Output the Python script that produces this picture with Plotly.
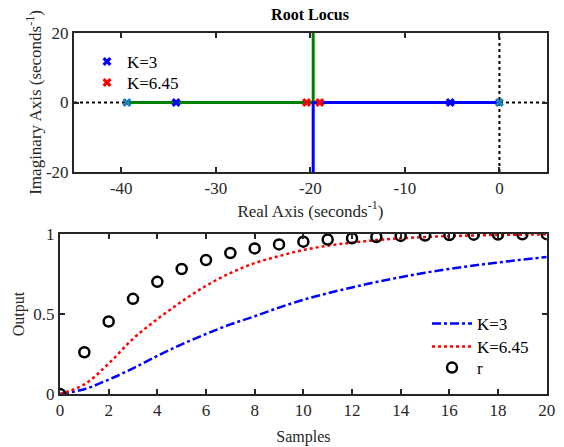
import plotly.graph_objects as go

# ---------------- data ----------------
# Root locus (top)
open_loop_poles_re = [0.0, -39.4]
open_loop_poles_im = [0.0, 0.0]
k3_poles_re = [-34.2, -5.2]
k3_poles_im = [0.0, 0.0]
k645_poles_re = [-20.4, -19.0]
k645_poles_im = [0.0, 0.0]
branch_green_re = [-39.4, -19.7, -19.7]
branch_green_im = [0.0, 0.0, 20.0]
branch_blue_re = [0.0, -19.7, -19.7]
branch_blue_im = [0.0, 0.0, -20.0]

# Step responses (bottom)
samples = list(range(21))
y_k3 = [0.0, 0.03, 0.09, 0.16, 0.238, 0.31, 0.375, 0.435, 0.486, 0.54, 0.589,
        0.63, 0.666, 0.70, 0.73, 0.758, 0.782, 0.803, 0.822, 0.84, 0.856]
y_k645 = [0.0, 0.06, 0.19, 0.345, 0.468, 0.578, 0.676, 0.756, 0.818, 0.862, 0.90,
          0.927, 0.946, 0.962, 0.973, 0.981, 0.987, 0.991, 0.994, 0.996, 0.998]
r_vals = [0.0, 0.261, 0.453, 0.595, 0.701, 0.781, 0.837, 0.881, 0.910, 0.935, 0.952,
          0.965, 0.973, 0.981, 0.988, 0.990, 0.994, 0.996, 0.997, 0.998, 0.999]

x_ticks_top = [-40, -30, -20, -10, 0]
y_ticks_top = [-20, 0, 20]
x_ticks_bot = list(range(0, 21, 2))
y_ticks_bot = [0, 0.5, 1]

# ---------------- figure ----------------
FONT = "Liberation Serif, Times New Roman, serif"
AX = "#262626"
W, H = 564, 447

fig = go.Figure()

# dotted axes lines in root locus
fig.add_trace(go.Scatter(x=[-45, 5], y=[0, 0], mode="lines",
                         line=dict(color="black", width=2, dash="dot"),
                         showlegend=False, hoverinfo="skip", xaxis="x", yaxis="y"))
fig.add_trace(go.Scatter(x=[0, 0], y=[-20, 20], mode="lines",
                         line=dict(color="black", width=2, dash="dot"),
                         showlegend=False, hoverinfo="skip", xaxis="x", yaxis="y"))
# branches
fig.add_trace(go.Scatter(x=branch_green_re, y=branch_green_im, mode="lines",
                         line=dict(color="#008000", width=3),
                         showlegend=False, xaxis="x", yaxis="y"))
fig.add_trace(go.Scatter(x=branch_blue_re, y=branch_blue_im, mode="lines",
                         line=dict(color="#0000FF", width=3),
                         showlegend=False, xaxis="x", yaxis="y"))
# open-loop poles
fig.add_trace(go.Scatter(x=open_loop_poles_re, y=open_loop_poles_im, mode="markers",
                         marker=dict(symbol="x", size=8, color="#1f80c0", line=dict(width=0)),
                         showlegend=False, xaxis="x", yaxis="y"))
# closed-loop poles
fig.add_trace(go.Scatter(x=k3_poles_re, y=k3_poles_im, mode="markers", name="K=3",
                         marker=dict(symbol="x", size=8, color="#0000FF", line=dict(width=0)),
                         legend="legend", xaxis="x", yaxis="y"))
fig.add_trace(go.Scatter(x=k645_poles_re, y=k645_poles_im, mode="markers", name="K=6.45",
                         marker=dict(symbol="x", size=8, color="#FF0000", line=dict(width=0)),
                         legend="legend2", xaxis="x", yaxis="y"))

# step responses
fig.add_trace(go.Scatter(x=samples, y=y_k3, mode="lines", name="K=3",
                         line=dict(color="#0000FF", width=2.5, dash="dashdot", shape="spline"),
                         legend="legend3", xaxis="x2", yaxis="y2"))
fig.add_trace(go.Scatter(x=samples, y=y_k645, mode="lines", name="K=6.45",
                         line=dict(color="#FF0000", width=2.5, dash="dot", shape="spline"),
                         legend="legend4", xaxis="x2", yaxis="y2"))
fig.add_trace(go.Scatter(x=samples, y=r_vals, mode="markers", name="r",
                         marker=dict(symbol="circle-open", size=10, color="black",
                                     line=dict(width=2.5, color="black")),
                         legend="legend5", xaxis="x2", yaxis="y2"))

axis_common = dict(showline=True, linecolor=AX, linewidth=2, mirror="ticks",
                   ticks="inside", ticklen=5, tickwidth=2, tickcolor=AX,
                   showgrid=False, zeroline=False, automargin=False,
                   tickfont=dict(family=FONT, size=17, color=AX))

top_x = [74 / W, 546.7 / W]
top_y = [1 - 172 / H, 1 - 33 / H]
bot_x = [60 / W, 546.7 / W]
bot_y = [1 - 394 / H, 1 - 234 / H]


def leg(px, py, iw):
    return dict(x=px / W, y=1 - py / H, xanchor="left", yanchor="middle",
                bgcolor="rgba(0,0,0,0)", borderwidth=0, itemwidth=iw,
                font=dict(family=FONT, size=17, color="black"))


fig.update_layout(
    width=W, height=H,
    margin=dict(l=0, r=0, t=0, b=0, autoexpand=False),
    paper_bgcolor="white", plot_bgcolor="white",
    font=dict(family=FONT, color=AX),
    title=dict(text="<b>Root Locus</b>", x=310 / W, xanchor="center",
               y=1 - 14 / H, yanchor="middle", automargin=False,
               font=dict(family=FONT, size=16, color="black")),
    xaxis=dict(domain=top_x, anchor="y", range=[-45, 5], tickvals=x_ticks_top,
               ticktext=[str(v) for v in x_ticks_top],
               title=dict(text="Real Axis (seconds<sup>-1</sup>)", standoff=2,
                          font=dict(family=FONT, size=17, color=AX)),
               **axis_common),
    yaxis=dict(domain=top_y, anchor="x", range=[-20, 20], tickvals=y_ticks_top,
               ticktext=[str(v) for v in y_ticks_top],
               title=dict(text="Imaginary Axis (seconds<sup>-1</sup>)", standoff=0,
                          font=dict(family=FONT, size=17, color=AX)),
               **axis_common),
    xaxis2=dict(domain=bot_x, anchor="y2", range=[0, 20], tickvals=x_ticks_bot,
                title=dict(text="Samples", standoff=11,
                           font=dict(family=FONT, size=16, color=AX)),
                **axis_common),
    yaxis2=dict(domain=bot_y, anchor="x2", range=[0, 1], tickvals=y_ticks_bot,
                ticktext=["0", "0.5", "1"],
                title=dict(text="Output", standoff=5,
                           font=dict(family=FONT, size=16, color=AX)),
                **axis_common),
    legend=leg(87, 62, 30),
    legend2=leg(87, 83, 30),
    legend3=leg(427, 324, 40),
    legend4=leg(427, 347, 40),
    legend5=leg(427, 368, 40),
)

fig.write_html("out.html")
